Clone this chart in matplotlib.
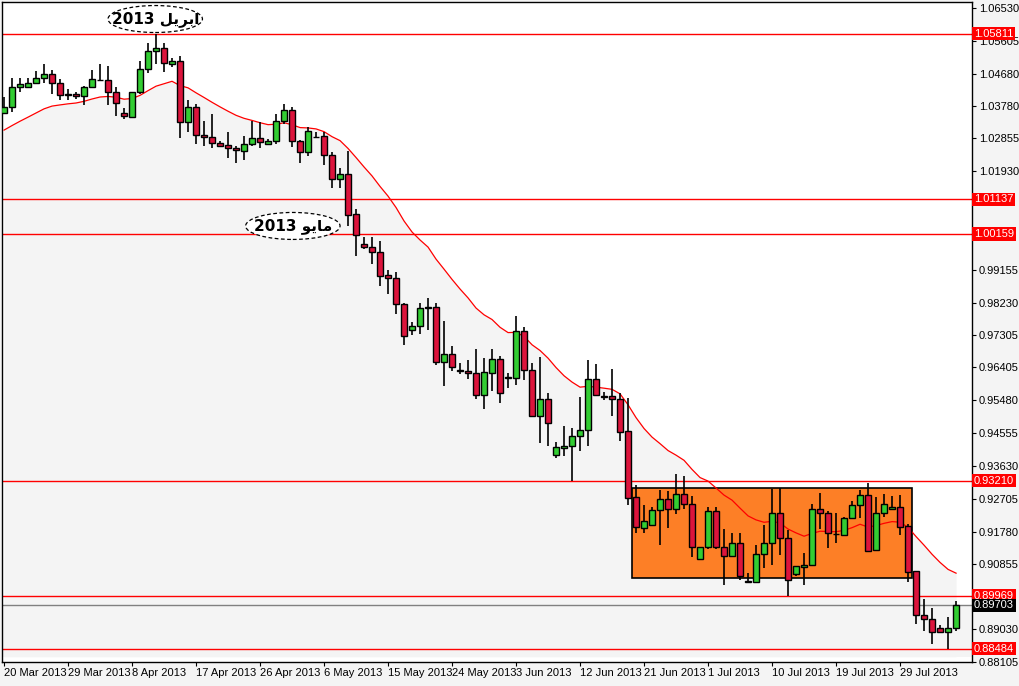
import matplotlib
matplotlib.use("Agg")
import matplotlib.pyplot as plt
from matplotlib.patches import Ellipse, Rectangle
from matplotlib.transforms import blended_transform_factory
import numpy as np

# daily OHLC, one bar per entry
opens = [1.0356, 1.0373, 1.0431, 1.0431, 1.0443, 1.0457, 1.0468, 1.0443, 1.0410, 1.0411,
         1.0405, 1.0431, 1.0451, 1.0449, 1.0417, 1.0356, 1.0347, 1.0415, 1.0482, 1.0533,
         1.0540, 1.0496, 1.0505, 1.0331, 1.0375, 1.0295, 1.0289, 1.0272, 1.0267, 1.0258,
         1.0251, 1.0270, 1.0286, 1.0270, 1.0278, 1.0335, 1.0365, 1.0278, 1.0247, 1.0290,
         1.0292, 1.0239, 1.0170, 1.0185, 1.0072, 0.9988, 0.9979, 0.9965, 0.9900, 0.9891,
         0.9820, 0.9746, 0.9758, 0.9810, 0.9811, 0.9657, 0.9677, 0.9632, 0.9629, 0.9624,
         0.9564, 0.9625, 0.9663, 0.9613, 0.9611, 0.9744, 0.9632, 0.9503, 0.9551, 0.9394,
         0.9413, 0.9420, 0.9448, 0.9464, 0.9607, 0.9559, 0.9559, 0.9551, 0.9460, 0.9275,
         0.9189, 0.9196, 0.9238, 0.9269, 0.9241, 0.9283, 0.9255, 0.9101, 0.9135, 0.9236,
         0.9135, 0.9110, 0.9146, 0.9038, 0.9037, 0.9115, 0.9147, 0.9230, 0.9160, 0.9059,
         0.9079, 0.9084, 0.9241, 0.9230, 0.9172, 0.9168, 0.9216, 0.9252, 0.9280, 0.9126,
         0.9230, 0.9241, 0.9247, 0.9194, 0.9066, 0.8944, 0.8933, 0.8905, 0.8896, 0.8905]
highs = [1.0402, 1.0455, 1.0455, 1.0457, 1.0475, 1.0494, 1.0478, 1.0452, 1.0424, 1.0415,
         1.0433, 1.0477, 1.0494, 1.0489, 1.0431, 1.0371, 1.0417, 1.0505, 1.0554, 1.0581,
         1.0554, 1.0512, 1.0519, 1.0393, 1.0382, 1.0334, 1.0354, 1.0277, 1.0303, 1.0265,
         1.0293, 1.0334, 1.0331, 1.0284, 1.0354, 1.0382, 1.0375, 1.0281, 1.0318, 1.0304,
         1.0304, 1.0247, 1.0202, 1.0251, 1.0088, 1.0009, 1.0007, 0.9998, 0.9914, 0.9909,
         0.9823, 0.9767, 0.9823, 0.9837, 0.9823, 0.9772, 0.9702, 0.9652, 0.9660, 0.9692,
         0.9666, 0.9692, 0.9674, 0.9624, 0.9786, 0.9755, 0.9652, 0.9669, 0.9569, 0.9429,
         0.9476, 0.9471, 0.9557, 0.9662, 0.9650, 0.9571, 0.9636, 0.9569, 0.9553, 0.9309,
         0.9253, 0.9247, 0.9295, 0.9292, 0.9339, 0.9334, 0.9278, 0.9135, 0.9247, 0.9248,
         0.9185, 0.9175, 0.9175, 0.9062, 0.9140, 0.9196, 0.9297, 0.9301, 0.9183, 0.9082,
         0.9117, 0.9256, 0.9287, 0.9236, 0.9231, 0.9218, 0.9264, 0.9295, 0.9315, 0.9275,
         0.9283, 0.9278, 0.9280, 0.9199, 0.9066, 0.8987, 0.8964, 0.8916, 0.8936, 0.8981]
lows = [1.0354, 1.0360, 1.0416, 1.0431, 1.0443, 1.0443, 1.0412, 1.0393, 1.0394, 1.0398,
        1.0379, 1.0431, 1.0447, 1.0379, 1.0349, 1.0340, 1.0347, 1.0410, 1.0469, 1.0494,
        1.0472, 1.0486, 1.0286, 1.0303, 1.0270, 1.0263, 1.0258, 1.0263, 1.0230, 1.0216,
        1.0226, 1.0265, 1.0258, 1.0267, 1.0270, 1.0326, 1.0261, 1.0216, 1.0235, 1.0286,
        1.0211, 1.0147, 1.0147, 1.0040, 0.9955, 0.9974, 0.9933, 0.9871, 0.9846, 0.9790,
        0.9704, 0.9732, 0.9734, 0.9746, 0.9648, 0.9587, 0.9629, 0.9621, 0.9609, 0.9551,
        0.9522, 0.9574, 0.9541, 0.9583, 0.9592, 0.9604, 0.9503, 0.9427, 0.9420, 0.9385,
        0.9392, 0.9321, 0.9406, 0.9420, 0.9559, 0.9550, 0.9503, 0.9432, 0.9253, 0.9173,
        0.9175, 0.9196, 0.9141, 0.9189, 0.9228, 0.9241, 0.9105, 0.9101, 0.9129, 0.9129,
        0.9028, 0.9110, 0.9042, 0.9037, 0.9037, 0.9075, 0.9085, 0.9112, 0.8997, 0.9052,
        0.9028, 0.9084, 0.9185, 0.9131, 0.9147, 0.9166, 0.9216, 0.9216, 0.9121, 0.9126,
        0.9220, 0.9241, 0.9169, 0.9036, 0.8917, 0.8899, 0.8861, 0.8893, 0.8848, 0.8899]
closes = [1.0373, 1.0431, 1.0438, 1.0443, 1.0457, 1.0468, 1.0443, 1.0408, 1.0409, 1.0405,
          1.0431, 1.0452, 1.0450, 1.0417, 1.0384, 1.0348, 1.0415, 1.0482, 1.0533, 1.0540,
          1.0498, 1.0505, 1.0331, 1.0375, 1.0295, 1.0289, 1.0272, 1.0265, 1.0258, 1.0253,
          1.0270, 1.0286, 1.0275, 1.0278, 1.0335, 1.0365, 1.0278, 1.0247, 1.0307, 1.0289,
          1.0239, 1.0170, 1.0185, 1.0070, 1.0014, 0.9979, 0.9965, 0.9899, 0.9891, 0.9818,
          0.9730, 0.9758, 0.9809, 0.9809, 0.9657, 0.9677, 0.9643, 0.9631, 0.9624, 0.9564,
          0.9627, 0.9663, 0.9567, 0.9612, 0.9744, 0.9632, 0.9503, 0.9551, 0.9483, 0.9415,
          0.9420, 0.9448, 0.9464, 0.9607, 0.9564, 0.9558, 0.9551, 0.9458, 0.9273, 0.9191,
          0.9208, 0.9238, 0.9269, 0.9241, 0.9283, 0.9255, 0.9135, 0.9135, 0.9236, 0.9135,
          0.9110, 0.9146, 0.9052, 0.9037, 0.9115, 0.9147, 0.9230, 0.9160, 0.9042, 0.9082,
          0.9085, 0.9241, 0.9230, 0.9173, 0.9171, 0.9216, 0.9252, 0.9280, 0.9124, 0.9230,
          0.9255, 0.9247, 0.9192, 0.9064, 0.8944, 0.8933, 0.8896, 0.8896, 0.8905, 0.8970]

ma_start = 1.0309  # moving average level at the first bar
ma_period = 18

date_labels = ["20 Mar 2013", "29 Mar 2013", "8 Apr 2013", "17 Apr 2013", "26 Apr 2013",
               "6 May 2013", "15 May 2013", "24 May 2013", "3 Jun 2013", "12 Jun 2013",
               "21 Jun 2013", "1 Jul 2013", "10 Jul 2013", "19 Jul 2013", "29 Jul 2013"]
label_step = 8

price_ticks = [1.06530, 1.05605, 1.04680, 1.03780, 1.02855, 1.01930,
               0.99155, 0.98230, 0.97305, 0.96405, 0.95480, 0.94555, 0.93630, 0.92705,
               0.91780, 0.90855, 0.89030, 0.88105]
levels = [1.05811, 1.01137, 1.00159, 0.93210, 0.89969, 0.88484]
bid = 0.89703
box_top, box_bottom = 0.9301, 0.9048
box_left, box_right = 78.5, 113.5

GREEN = "#32cd32"
RED = "#dc143c"
GRAY = "#f4f4f4"
FONT = "Liberation Sans"

o, h, l, c = map(np.array, (opens, highs, lows, closes))
n = len(c)
x = np.arange(n)

# smoothed moving average
alpha = 2 / (ma_period + 1)
ma = np.empty(n)
ma[0] = ma_start
for i in range(1, n):
    ma[i] = ma[i - 1] + alpha * (c[i] - ma[i - 1])

fig = plt.figure(figsize=(10.2, 6.86), dpi=100, facecolor=GRAY)
ax = fig.add_axes([0.002, 0.035, 0.951, 0.962])
ax.set_facecolor("white")
ymin, ymax = 0.88251, 1.06698
ax.set_xlim(-0.25, 121)
ax.set_ylim(ymin, ymax)

ax.fill_between(x, ma, ymin, color=GRAY, zorder=0, lw=0)
ax.axhspan(ymin, bid, color=GRAY, zorder=0, lw=0)
ax.axhline(bid, color="#808080", lw=1, zorder=1)
for lv in levels:
    ax.axhline(lv, color="red", lw=1, zorder=1)

ax.add_patch(Rectangle((box_left, box_bottom), box_right - box_left, box_top - box_bottom,
                       facecolor="#fd7f26", edgecolor="black", lw=1.2, zorder=2))
ax.plot(x, ma, color="red", lw=0.9, zorder=3)

up = c >= o
ax.vlines(x, l, h, color="black", lw=1.2, zorder=4)
body_lo = np.minimum(o, c)
body_h = np.maximum(np.abs(c - o), 0.00005)
ax.bar(x, body_h, bottom=body_lo, width=0.7,
       color=np.where(up, GREEN, RED), edgecolor="black", lw=1, zorder=5)

# month notes
t1 = "2013 " + "\uFEDE\uFEF3\uFEAE\uFE91\uFE8D"
t2 = "2013 " + "\uFEEE\uFEF3\uFE8E\uFEE3"
for cx, cy, txt in [(18.9, 1.0622, t1), (36.1, 1.0039, t2)]:
    ax.add_patch(Ellipse((cx, cy), 11.8, 0.0076, facecolor="white", edgecolor="black",
                         ls=(0, (3, 2)), lw=0.9, zorder=6))
    ax.text(cx, cy, txt, ha="center", va="center", fontsize=11, fontweight="bold",
            family="DejaVu Sans", zorder=7)

ax.yaxis.tick_right()
ax.set_yticks(price_ticks)
ax.set_yticklabels([f"{t:.5f}" for t in price_ticks], fontsize=8, family=FONT)
ax.tick_params(axis="y", length=3, pad=2)
ticks_x = np.arange(len(date_labels)) * label_step
ax.set_xticks(ticks_x)
ax.set_xticklabels(date_labels, fontsize=8, ha="left", family=FONT)
ax.tick_params(axis="x", length=3, pad=1)
for s in ax.spines.values():
    s.set_linewidth(1)

tr = blended_transform_factory(ax.transAxes, ax.transData)
for lv in levels:
    ax.text(1.002, lv, f"{lv:.5f}", transform=tr, fontsize=8, color="white", family=FONT,
            va="center", ha="left", zorder=10,
            bbox=dict(facecolor="red", edgecolor="none", pad=1.2))
ax.text(1.002, bid, f"{bid:.5f}", transform=tr, fontsize=8, color="white", family=FONT,
        va="center", ha="left", zorder=10,
        bbox=dict(facecolor="black", edgecolor="none", pad=1.2))

fig.savefig("out.png", dpi=100, facecolor=fig.get_facecolor())
